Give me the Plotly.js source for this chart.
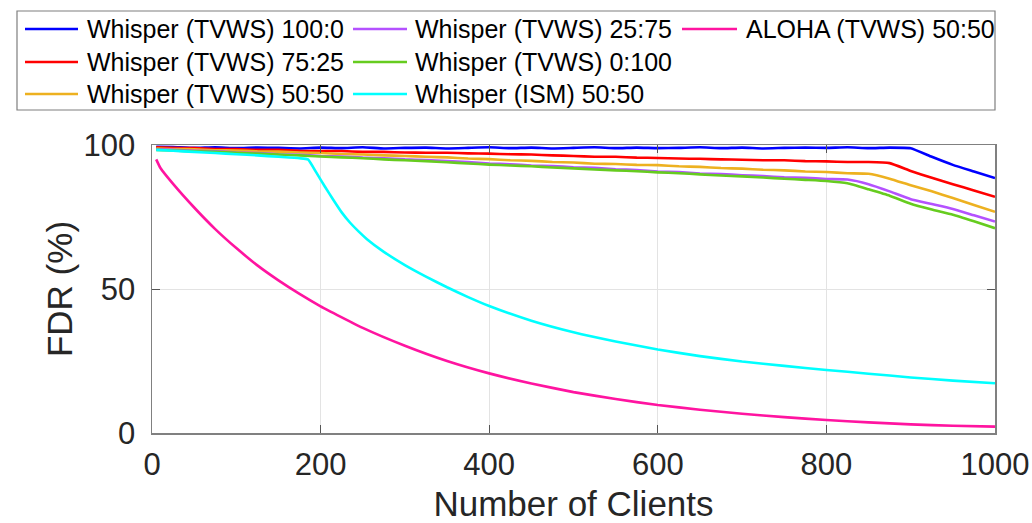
<!DOCTYPE html>
<html>
<head>
<meta charset="utf-8">
<script src="https://cdn.plot.ly/plotly-3.0.1.min.js"></script>
<style>html,body{margin:0;padding:0;background:#fff;}#chart{width:1032px;height:523px;}</style>
</head>
<body>
<div id="chart"></div>
<script>
// ---- data ----
const clients = [5,25,50,75,100,125,150,175,200,225,250,275,300,325,350,375,400,425,450,475,500,525,550,575,600,625,650,675,700,725,750,775,800,825,850,875,900,925,950,975,1000];

const tvws100_0 = [99.4,99.3,99.0,99.2,98.9,99.1,99.0,98.8,99.1,98.9,99.2,98.8,99.0,99.1,98.8,99.0,99.2,98.9,99.1,98.8,99.0,99.2,98.9,99.1,98.9,99.0,99.2,98.9,99.1,98.8,99.0,99.1,99.0,99.2,98.9,99.1,98.9,95.9,93.1,90.8,88.5];
const tvws75_25 = [99.2,99.0,98.9,98.6,98.6,98.3,98.3,98.0,97.9,97.9,97.6,97.6,97.4,97.3,97.3,97.1,97.0,96.8,96.7,96.4,96.2,95.9,95.9,95.6,95.5,95.3,95.2,95.0,94.9,94.7,94.7,94.4,94.3,94.1,94.1,93.7,91.0,88.6,86.4,84.2,82.0];
const tvws50_50 = [98.8,98.6,98.5,98.2,98.1,97.8,97.7,97.4,97.2,96.9,96.7,96.4,96.2,95.9,95.7,95.3,95.1,94.7,94.5,94.1,93.9,93.5,93.4,93.1,93.0,92.6,92.4,92.0,91.8,91.4,91.2,90.8,90.6,90.2,90.0,88.3,86.0,83.9,81.6,79.2,76.8];
const tvws25_75 = [98.5,98.3,98.0,97.8,97.4,97.2,96.8,96.6,96.2,96.0,95.6,95.4,95.0,94.8,94.4,94.1,93.6,93.3,92.9,92.7,92.3,92.1,91.6,91.3,90.8,90.6,90.1,89.9,89.5,89.2,88.8,88.6,88.2,88.0,86.4,83.9,81.2,79.5,77.8,75.6,73.4];
const tvws0_100 = [98.3,98.1,97.8,97.6,97.3,97.0,96.7,96.4,96.0,95.7,95.4,95.0,94.7,94.4,94.0,93.6,93.2,92.9,92.6,92.2,91.9,91.5,91.2,90.9,90.5,90.2,89.8,89.4,89.1,88.7,88.3,87.9,87.5,86.7,84.6,82.4,79.6,77.6,75.8,73.5,71.1];

const ismClients = [5,25,50,75,100,125,150,175,185,195,205,215,225,235,245,255,275,300,325,350,375,400,450,500,550,600,650,700,750,800,850,900,950,1000];
const ism50_50 = [98.3,98.0,97.6,97.2,96.8,96.4,95.9,95.4,95.0,90.4,85.6,81.0,76.6,73.0,70.0,67.3,62.9,58.3,54.3,50.6,47.2,44.1,39.0,35.0,31.8,29.0,26.7,24.8,23.3,21.9,20.6,19.3,18.2,17.3];

const alohaClients = [5,10,25,50,75,100,125,150,175,200,250,300,350,400,450,500,550,600,650,700,750,800,850,900,950,1000];
const aloha50_50 = [95.0,92.0,86.5,78.3,70.8,64.2,58.2,53.0,48.3,44.0,36.5,30.3,25.0,20.7,17.2,14.2,11.8,9.7,8.1,6.7,5.5,4.5,3.7,3.0,2.5,2.2];

const seriesNames = ['Whisper (TVWS) 100:0','Whisper (TVWS) 75:25','Whisper (TVWS) 50:50','Whisper (TVWS) 25:75','Whisper (TVWS) 0:100','Whisper (ISM) 50:50','ALOHA (TVWS) 50:50'];
const xTicks = [0,200,400,600,800,1000];
const yTicks = [0,50,100];

// ---- styles ----
const colors = ['#0000ff','#ff0000','#edb120','#b451ff','#66cc1f','#00ffff','#ff14a0'];
const xs = [clients,clients,clients,clients,clients,ismClients,alohaClients];
const ys = [tvws100_0,tvws75_25,tvws50_50,tvws25_75,tvws0_100,ism50_50,aloha50_50];

const traces = seriesNames.map((n,i)=>({
  x: xs[i], y: ys[i], name: n, type:'scatter', mode:'lines',
  line:{color:colors[i], width:2.6, shape:'spline', smoothing:0.4}, showlegend:false
}));

// manual legend: column/row placement
const F = 'Liberation Sans, Arial, Helvetica, sans-serif';
const pxX = p => (p-152)/843;
const pxY = p => (433-p)/288;
const slots = [[0,0],[0,1],[0,2],[1,0],[1,1],[1,2],[2,0]];
const colLine = [[25,78],[353,407],[682,737]];
const colText = [85,413,744];
const rowY = [29,62,94];
const shapes = [{type:'rect',xref:'paper',yref:'paper',x0:pxX(17),x1:pxX(995),y0:pxY(110),y1:pxY(11),line:{color:'#7f7f7f',width:1.2},fillcolor:'rgba(0,0,0,0)'}];
const annotations = [];
slots.forEach((s,i)=>{
  const [c,r]=s;
  shapes.push({type:'line',xref:'paper',yref:'paper',x0:pxX(colLine[c][0]),x1:pxX(colLine[c][1]),y0:pxY(rowY[r]),y1:pxY(rowY[r]),line:{color:colors[i],width:2.6}});
  annotations.push({xref:'paper',yref:'paper',x:pxX(colText[c]),y:pxY(rowY[r]),xanchor:'left',yanchor:'middle',text:seriesNames[i],showarrow:false,font:{family:F,size:25,color:'#000'}});
});

const layout = {
  width:1032, height:523,
  margin:{l:152,r:37,t:145,b:90,pad:0},
  paper_bgcolor:'#fff', plot_bgcolor:'#fff',
  font:{family:F, color:'#262626'},
  xaxis:{range:[0,1000], tickvals:xTicks, ticktext:xTicks.map(String), ticks:'inside', ticklen:8, tickcolor:'#555',
    showline:true, linecolor:'#808080', linewidth:1.5, mirror:'ticks', showgrid:true, gridcolor:'#e3e3e3', gridwidth:1,
    zeroline:false, tickfont:{size:31,family:F,color:'#262626'}, ticklabelstandoff:3,
    title:{text:'Number of Clients', font:{size:35,family:F,color:'#262626'}, standoff:14}},
  yaxis:{range:[0,100], tickvals:yTicks, ticktext:yTicks.map(String), ticks:'inside', ticklen:8, tickcolor:'#555',
    showline:true, linecolor:'#808080', linewidth:1.5, mirror:'ticks', showgrid:true, gridcolor:'#e3e3e3', gridwidth:1,
    zeroline:false, tickfont:{size:31,family:F,color:'#262626'}, ticklabelstandoff:9,
    title:{text:'FDR (%)', font:{size:35,family:F,color:'#262626'}, standoff:0}},
  shapes: shapes, annotations: annotations, showlegend:false
};

Plotly.newPlot('chart', traces, layout, {displayModeBar:false, staticPlot:true});
</script>
</body>
</html>
